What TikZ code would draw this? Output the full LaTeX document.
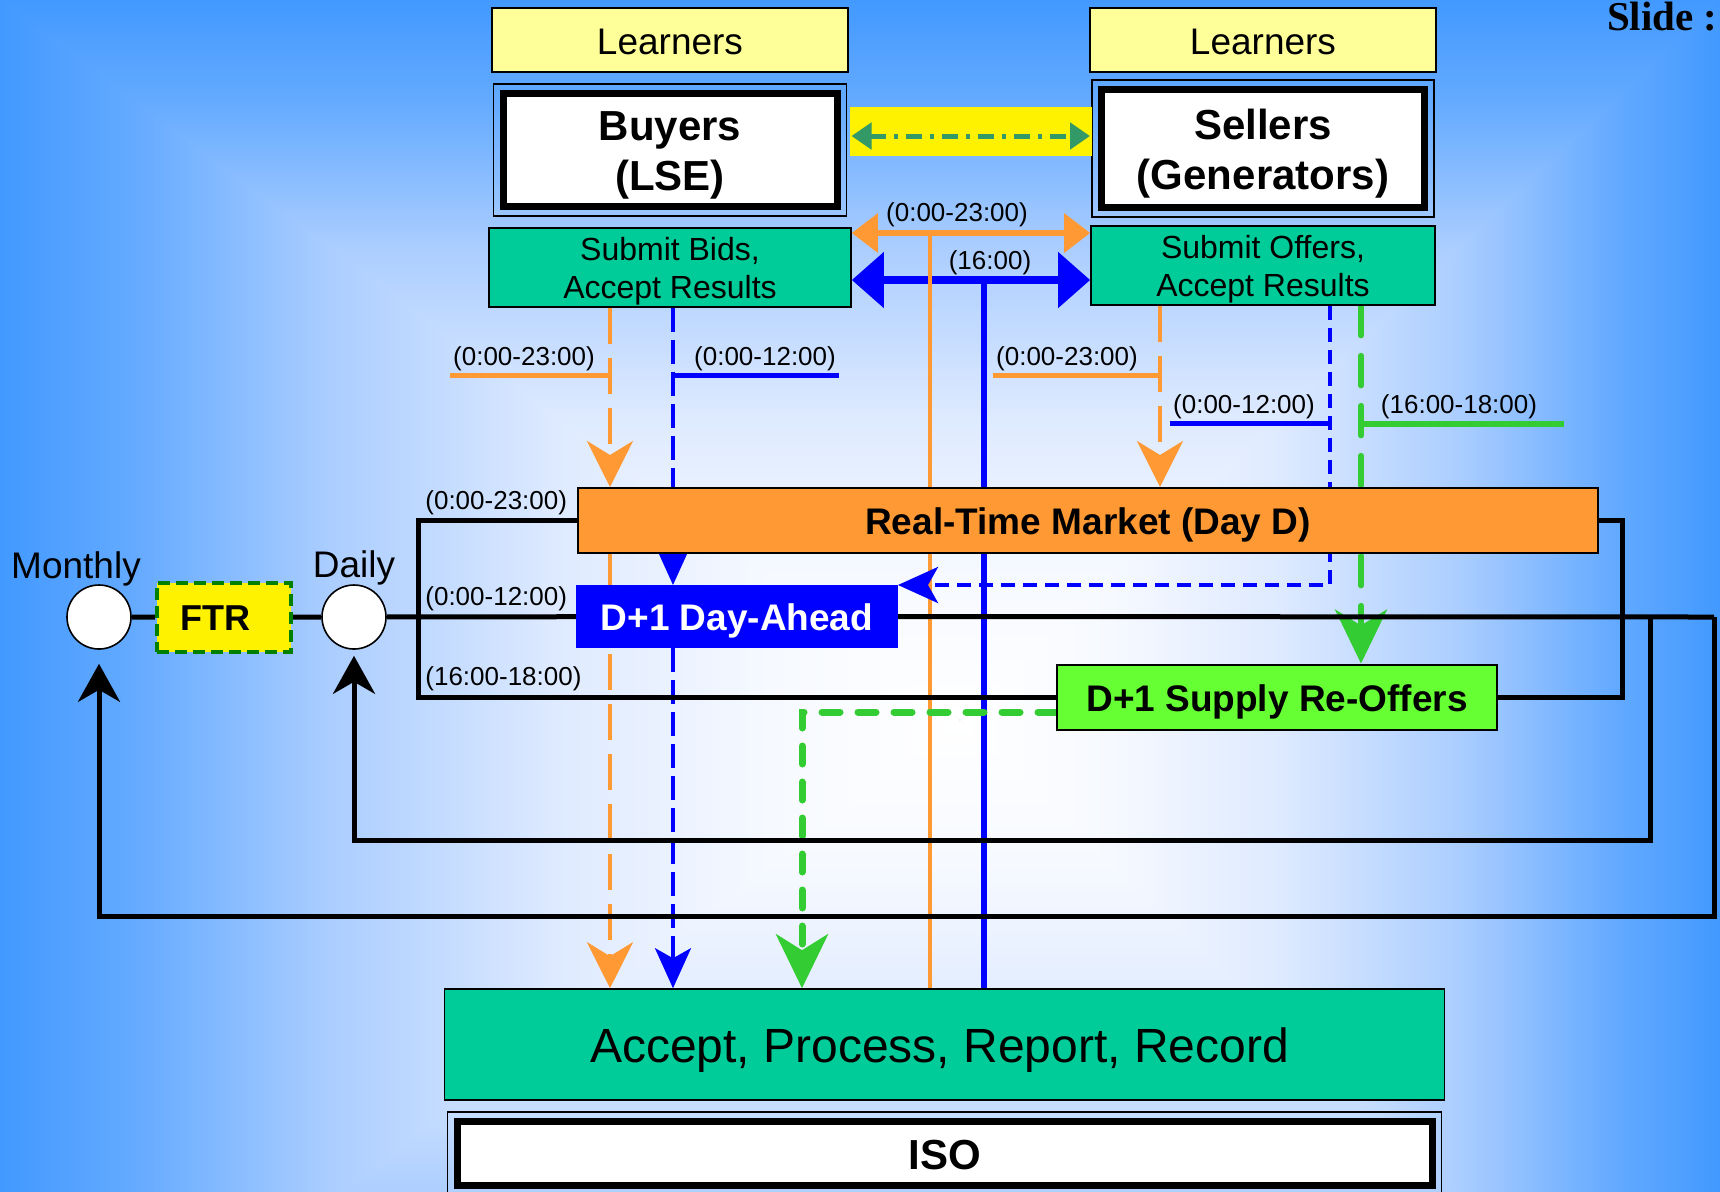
\documentclass[tikz,border=0pt]{standalone}
\usepackage{fontspec}
\setmainfont{Liberation Sans}
\newfontfamily\slidefont{Liberation Serif}
\usetikzlibrary{arrows.meta, positioning}

\definecolor{bgA}{RGB}{66,153,255}
\definecolor{bgB}{RGB}{100,170,255}
\definecolor{bgC}{RGB}{170,205,255}
\definecolor{bgD}{RGB}{222,234,255}
\definecolor{bgE}{RGB}{246,249,255}
\definecolor{paleyellow}{RGB}{255,255,153}
\definecolor{sea}{RGB}{0,204,153}
\definecolor{mkorange}{RGB}{255,153,51}
\definecolor{lime}{RGB}{102,255,51}
\definecolor{grass}{RGB}{51,204,51}
\definecolor{ftrgreen}{RGB}{0,128,0}
\definecolor{linkgreen}{RGB}{51,153,102}

\pgfdeclarehorizontalshading{edgeglow}{100bp}{color(0bp)=(bgA); color(25bp)=(bgA); color(32bp)=(bgB); color(42bp)=(bgC); color(54bp)=(bgD); color(65bp)=(bgE); color(75bp)=(white); color(100bp)=(white)}

% line box as in the slide software
\newcommand\pptstrut{\rule[-0.21em]{0pt}{1.18em}}

\pgfdeclarelayer{back}
\pgfdeclarelayer{wires}
\pgfsetlayers{back,wires,main}

\begin{document}
\begin{tikzpicture}[
    x=0.5pt, y=-0.5pt,
    every node/.append style={execute at begin node=\pptstrut, execute at end node=\pptstrut},
    learnbox/.style={rectangle, draw=black, line width=0.8pt, fill=paleyellow, minimum height=32pt, font=\fontsize{18.5}{22}\selectfont},
    partybox/.style={rectangle, draw=black, line width=3.5pt, fill=white, align=center, inner ysep=1pt, font=\fontsize{21}{25}\selectfont\bfseries},
    taskbox/.style={rectangle, draw=black, line width=0.8pt, fill=sea, align=center, inner ysep=0pt, font=\fontsize{16}{19}\selectfont},
    mktbox/.style={rectangle, draw=black, line width=1pt, font=\fontsize{18.5}{22}\selectfont\bfseries},
    ftrbox/.style={rectangle, fill=yellow, draw=ftrgreen, line width=2pt, dash pattern=on 6pt off 3pt, font=\fontsize{18}{22}\selectfont\bfseries},
    hub/.style={circle, draw=black, line width=0.8pt, fill=white, minimum size=32pt, inner sep=0pt},
    hubname/.style={font=\fontsize{18.5}{22}\selectfont},
    timetag/.style={inner xsep=1.5pt, inner ysep=2pt, font=\fontsize{13}{15}\selectfont},
    wire/.style={draw=black, line width=2.5pt},
    feedback/.style={wire, -{Stealth[length=19pt, width=21pt, inset=6pt]}},
    bidflow/.style={draw=mkorange, line width=2pt, dash pattern=on 18pt off 7pt, -{Stealth[length=23pt, width=23pt, inset=7pt]}},
    dayflow/.style={draw=blue, line width=1.8pt, dash pattern=on 12pt off 4pt, -{Stealth[length=20pt, width=18pt, inset=5pt]}},
    reflow/.style={draw=grass, line width=2.8pt, line cap=round, dash pattern=on 15pt off 10pt, -{Stealth[length=27pt, width=26pt, inset=8pt]}},
    tagline/.style={line width=2.5pt}
]
\useasboundingbox (0,0) rectangle (1720,1191);

% background glow
\begin{pgfonlayer}{back}
  \fill[bgA] (0,0) rectangle (1720,1191);
  \coordinate (glow) at (960,720);
  \shade[shading=edgeglow] (0,0) -- (90,0) -- (glow) -- (90,1450) -- (0,1450) -- cycle;
  \shade[shading=edgeglow, shading angle=180] (1720,0) -- (1630,0) -- (glow) -- (1630,1450) -- (1720,1450) -- cycle;
  \shade[shading=edgeglow, shading angle=-90] (0,0) -- (1720,0) -- (glow) -- cycle;
  \shade[shading=edgeglow, shading angle=90] (0,1450) -- (1720,1450) -- (glow) -- cycle;
\end{pgfonlayer}

\node (slidetag) [anchor=base east, inner sep=0pt, font=\slidefont\bfseries\fontsize{20.5}{24}\selectfont] at (1718,30) {Slide :};

% agents
\node (buyers) [partybox, minimum width=167pt, minimum height=56.5pt] at (670,150) {\pptstrut Buyers\\(LSE)};
\node (sellers) [partybox, minimum width=161.5pt, minimum height=59pt] at (1263,148.5) {\pptstrut Sellers\\(Generators)};
\draw[line width=0.8pt] ([shift={(-3pt,3pt)}]buyers.north west) rectangle ([shift={(3pt,-3pt)}]buyers.south east);
\draw[line width=0.8pt] ([shift={(-3pt,3pt)}]sellers.north west) rectangle ([shift={(3pt,-3pt)}]sellers.south east);
\node (learnB) [learnbox, minimum width=178pt, above=8.5pt of buyers] {Learners};
\node (learnS) [learnbox, minimum width=173pt, above=6.5pt of sellers] {Learners};
\node (bids) [taskbox, minimum width=181pt, minimum height=39.5pt, below=8.5pt of buyers] {\pptstrut Submit Bids,\\Accept Results};
\node (offers) [taskbox, minimum width=172pt, minimum height=39.5pt, below=7pt of sellers] {\pptstrut Submit Offers,\\Accept Results};
\node (link) [fill=yellow, minimum width=121pt, minimum height=24.5pt] at (971,131.5) {};
\coordinate (linkY) at (0,136);
\draw[linkgreen, line width=2.5pt, dash pattern=on 8pt off 4pt on 2pt off 4pt, shorten <=5.5pt, shorten >=4pt,
      {Triangle[length=10pt,width=13pt]}-{Triangle[length=10pt,width=13pt]}] (buyers.east |- linkY) -- (sellers.west |- linkY);

% markets
\node (rtm) [mktbox, fill=mkorange, minimum width=510pt, minimum height=32.5pt] at (1088,520.5) {Real-Time Market (Day D)};
\node (dayahead) [mktbox, fill=blue, draw=blue, text=white, minimum width=160pt, minimum height=30.5pt] at (737,616.5) {D+1 Day-Ahead};
\node (reoffer) [mktbox, fill=lime, minimum width=220pt, minimum height=32.5pt] at (1277,697) {D+1 Supply Re-Offers};

% ISO
\node (accept) [taskbox, minimum width=500pt, minimum height=55.5pt, font=\fontsize{24}{28}\selectfont] at (944.5,1044.5) {Accept, Process, Report, Record\hspace*{5pt}};
\node (iso) [partybox, minimum width=487.5pt, minimum height=32pt, below=8.5pt of accept] {ISO};
\draw[line width=0.8pt] ([shift={(-3pt,3pt)}]iso.north west) rectangle ([shift={(3pt,-3pt)}]iso.south east);

% time scales
\node (monthly) [hub] at (99,617) {};
\node (ftr) [ftrbox, minimum width=67pt, minimum height=34.5pt] at (224,617) {FTR\hspace*{9pt}};
\node (daily) [hub] at (354,617) {};
\node (monthlyname) [hubname] at (76,564) {Monthly};
\node (dailyname) [hubname] at (354,563) {Daily};

% time labels
\node (tagTop) [timetag] at (957,212) {(0:00-23:00)};
\node (tagMid) [timetag] at (990,260) {(16:00)};
\node (tagBO) [timetag] at (524,356) {(0:00-23:00)};
\node (tagBB) [timetag] at (765,356) {(0:00-12:00)};
\node (tagSO) [timetag] at (1067,356) {(0:00-23:00)};
\node (tagSB) [timetag] at (1244,404) {(0:00-12:00)};
\node (tagSG) [timetag] at (1459,404) {(16:00-18:00)};
\node (tagRT) [timetag, anchor=west] at (422,500) {(0:00-23:00)};
\node (tagDA) [timetag, anchor=west] at (422,596) {(0:00-12:00)};
\node (tagRO) [timetag, anchor=west] at (422,676) {(16:00-18:00)};

\begin{pgfonlayer}{wires}
  \coordinate (laneBO) at (610,0);
  \coordinate (laneBB) at (673,0);
  \coordinate (laneRG) at (802,0);
  \coordinate (laneO) at (930,0);
  \coordinate (laneB) at (984,0);
  \coordinate (laneSO) at (1160,0);
  \coordinate (laneSB) at (1330,0);
  \coordinate (laneSG) at (1361,0);
  \coordinate (orangeY) at (0,233);
  \coordinate (blueY) at (0,280);
  \coordinate (splitx) at (418,0);
  \coordinate (mergex) at (1622,0);
  \coordinate (rightend) at (1714,617);
  \coordinate (dloop) at (1650,840);
  \coordinate (mloop) at (1714,916);

  % submissions
  \draw[mkorange, line width=3pt, {Triangle[length=13pt,width=19pt]}-{Triangle[length=13pt,width=19pt]}] (bids.east |- orangeY) -- (offers.west |- orangeY);
  \draw[blue, line width=4pt, {Triangle[length=16pt,width=27pt]}-{Triangle[length=16pt,width=27pt]}] (bids.east |- blueY) -- (offers.west |- blueY);
  \draw[mkorange, line width=2pt] (laneO |- orangeY) -- (accept.north -| laneO);
  \draw[blue, line width=3pt] (laneB |- blueY) -- (accept.north -| laneB);

  \draw[bidflow] (bids.south -| laneBO) -- (rtm.north -| laneBO);
  \draw[bidflow] (rtm.south -| laneBO) -- (accept.north -| laneBO);
  \draw[bidflow] (offers.south -| laneSO) -- (rtm.north -| laneSO);
  \draw[dayflow] (bids.south -| laneBB) -- (dayahead.north -| laneBB);
  \draw[dayflow] (dayahead.south -| laneBB) -- (accept.north -| laneBB);
  \draw[dayflow, line width=2.2pt, dash pattern=on 7pt off 4pt] (offers.south -| laneSB) |- (dayahead.north east);
  \draw[reflow] (offers.south -| laneSG) -- (reoffer.north -| laneSG);
  \draw[reflow, line width=3.5pt, dash pattern=on 9pt off 9pt] ([yshift=-7.5pt]reoffer.west) -| (accept.north -| laneRG);

  \draw[mkorange, tagline] (tagBO.south west) -- (tagBO.south -| laneBO);
  \draw[blue, tagline] (laneBB |- tagBB.south) -- (tagBB.south east);
  \draw[mkorange, tagline] (tagSO.south west) -- (tagSO.south -| laneSO);
  \draw[blue, tagline] (tagSB.south west) -- (tagSB.south -| laneSB);
  \draw[grass, tagline, line width=3pt] (laneSG |- tagSG.south) -- ([xshift=12pt]tagSG.south east);

  % schedule
  \draw[wire] (monthly) -- (ftr) -- (daily) -- (dayahead);
  \draw[wire] (dayahead.east) -- (rightend);
  \draw[wire] (rtm.west) -| (splitx |- reoffer.west) -- (reoffer.west);
  \draw[wire] (rtm.east) -| (mergex |- reoffer.east) -- (reoffer.east);
  \draw[feedback, shorten >=3pt] (dloop |- rightend) -- (dloop) -| (daily.south);
  \draw[feedback, shorten >=7pt] (rightend) -- (mloop) -| (monthly.south);
\end{pgfonlayer}

\end{tikzpicture}
\end{document}
